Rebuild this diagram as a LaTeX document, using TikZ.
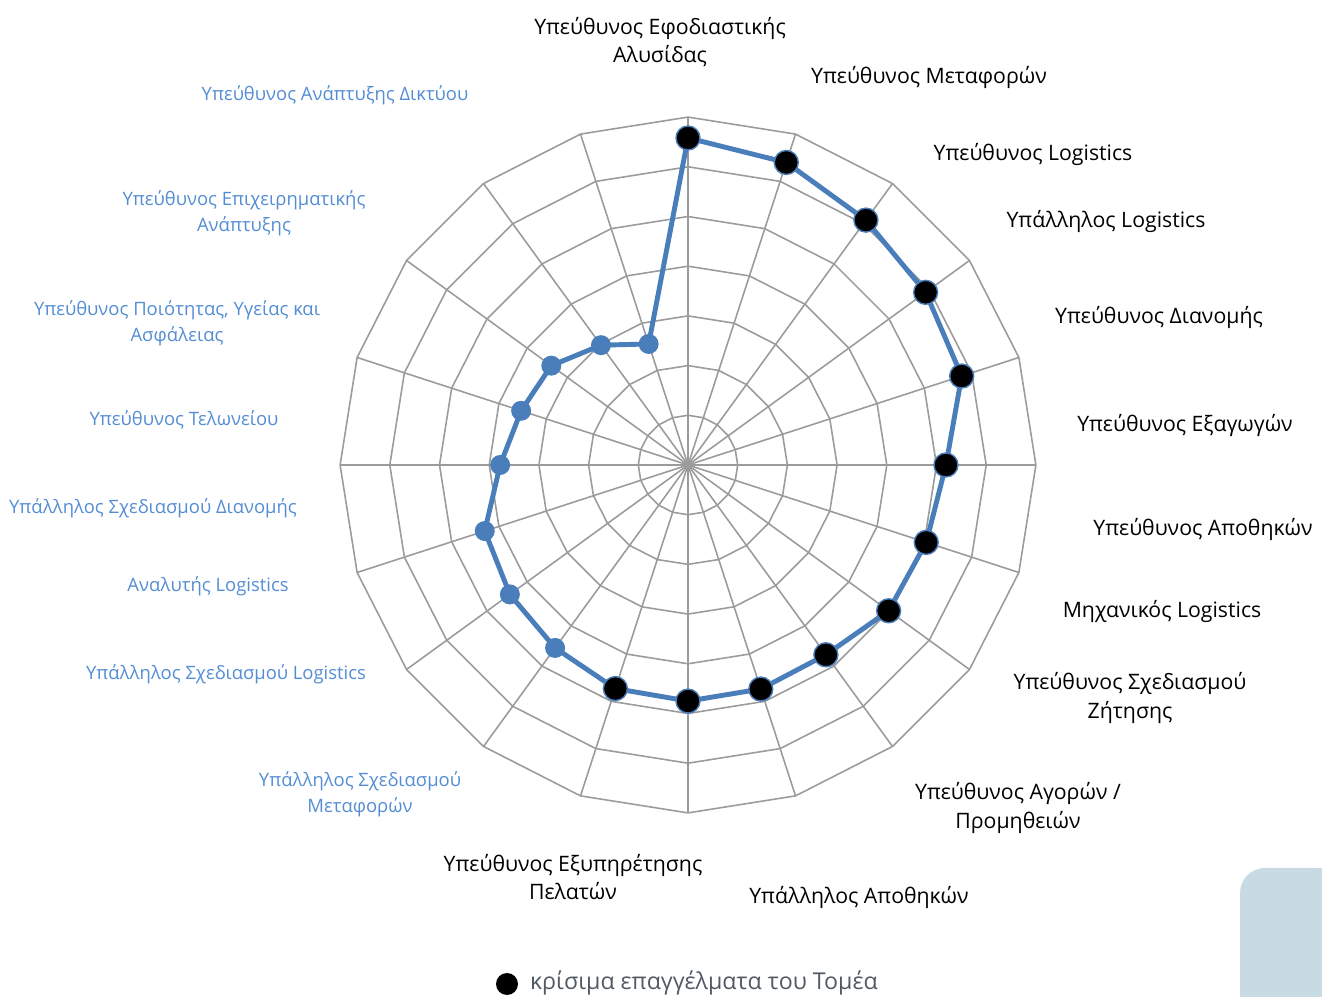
\documentclass[tikz,border=0pt]{standalone}
\usepackage{fontspec}
\setmainfont{Open Sans}
\usepackage{tikz}
\usetikzlibrary{calc}

\definecolor{radarblue}{RGB}{74,126,187}
\definecolor{labelblue}{RGB}{84,141,212}
\definecolor{gridgray}{RGB}{155,155,155}
\definecolor{legendgray}{RGB}{80,90,100}
\definecolor{cornerbox}{RGB}{200,219,228}

\begin{document}
\begin{tikzpicture}[
            x=0.02cm, y=0.02cm,
            gridline/.style={gridgray, line width=0.9pt},
            dataline/.style={radarblue, line width=2.8pt, line join=round},
            critical/.style={circle, fill=black, draw=radarblue, line width=0.8pt, minimum size=0.48cm, inner sep=0pt},
            other/.style={circle, fill=radarblue, minimum size=0.4cm, inner sep=0pt},
            critlabel/.style={black, align=center, font=\fontsize{12.1}{16.4}\selectfont},
            otherlabel/.style={labelblue, align=center, font=\fontsize{10.5}{14.7}\selectfont},
        ]
            \useasboundingbox (0,0) rectangle (1322,997);

            % --- Rounded box in the corner ---
            \fill[cornerbox, rounded corners=0.5cm] (1240,0) rectangle (1340,129);
            \fill[cornerbox] (1240,0) rectangle (1322,60);
            \fill[cornerbox] (1290,0) rectangle (1322,129);

            \begin{scope}[shift={(688,532)}]
            % --- Grid: rings and spokes ---
            \foreach \k in {1,...,7} {
                \draw[gridline] (90:\k*49.7) \foreach \a in {1,...,19} { -- (90-18*\a:\k*49.7) } -- cycle;
            }
            \foreach \a in {0,...,19} {
                \draw[gridline] (0,0) -- (90-18*\a:7*49.7);
            }

            % --- Data points ---
            \foreach \v [count=\i] in {6.58, 6.40, 6.09, 5.91, 5.79, 5.19, 5.04, 4.99, 4.72, 4.74,
                                       4.75, 4.73, 4.55, 4.43, 4.30, 3.78, 3.53, 3.40, 2.98, 2.56} {
                \coordinate (p\i) at (108-18*\i:\v*49.7);
            }
            \draw[dataline] (p1) \foreach \i in {2,...,20} { -- (p\i) } -- cycle;
            \foreach \i in {1,...,12} {
                \node[critical] (m\i) at (p\i) {};
            }
            \foreach \i in {13,...,20} {
                \node[other] (m\i) at (p\i) {};
            }
            \end{scope}

            % --- Labels: critical occupations ---
            \node[critlabel] (l1) at (660,955) {Υπεύθυνος Εφοδιαστικής\\Αλυσίδας};
            \node[critlabel] (l2) at (929,920) {Υπεύθυνος Μεταφορών};
            \node[critlabel] (l3) at (1033,843) {Υπεύθυνος Logistics};
            \node[critlabel] (l4) at (1106,776) {Υπάλληλος Logistics};
            \node[critlabel] (l5) at (1159,680) {Υπεύθυνος Διανομής};
            \node[critlabel] (l6) at (1185,572) {Υπεύθυνος Εξαγωγών};
            \node[critlabel] (l7) at (1203,468) {Υπεύθυνος Αποθηκών};
            \node[critlabel] (l8) at (1162,386) {Μηχανικός Logistics};
            \node[critlabel] (l9) at (1130,299) {Υπεύθυνος Σχεδιασμού\\Ζήτησης};
            \node[critlabel] (l10) at (1018,189) {Υπεύθυνος Αγορών /\\Προμηθειών};
            \node[critlabel] (l11) at (859,100) {Υπάλληλος Αποθηκών};
            \node[critlabel] (l12) at (573,120) {Υπεύθυνος Εξυπηρέτησης\\Πελατών};

            % --- Labels: other occupations ---
            \node[otherlabel] (l13) at (360,203) {Υπάλληλος Σχεδιασμού\\Μεταφορών};
            \node[otherlabel] (l14) at (226,323) {Υπάλληλος Σχεδιασμού Logistics};
            \node[otherlabel] (l15) at (208,411) {Αναλυτής Logistics};
            \node[otherlabel] (l16) at (153,489) {Υπάλληλος Σχεδιασμού Διανομής};
            \node[otherlabel] (l17) at (184,577) {Υπεύθυνος Τελωνείου};
            \node[otherlabel] (l18) at (177,674) {Υπεύθυνος Ποιότητας, Υγείας και\\Ασφάλειας};
            \node[otherlabel] (l19) at (244,784) {Υπεύθυνος Επιχειρηματικής\\Ανάπτυξης};
            \node[otherlabel] (l20) at (335,902) {Υπεύθυνος Ανάπτυξης Δικτύου};

            % --- Legend ---
            \node[circle, fill=black, minimum size=0.44cm, inner sep=0pt] (legdot) at (507,13) {};
            \node[legendgray, font=\fontsize{13.2}{16}\selectfont, anchor=west] (legtext) at (524,14) {κρίσιμα επαγγέλματα του Τομέα};
        \end{tikzpicture}
\end{document}
